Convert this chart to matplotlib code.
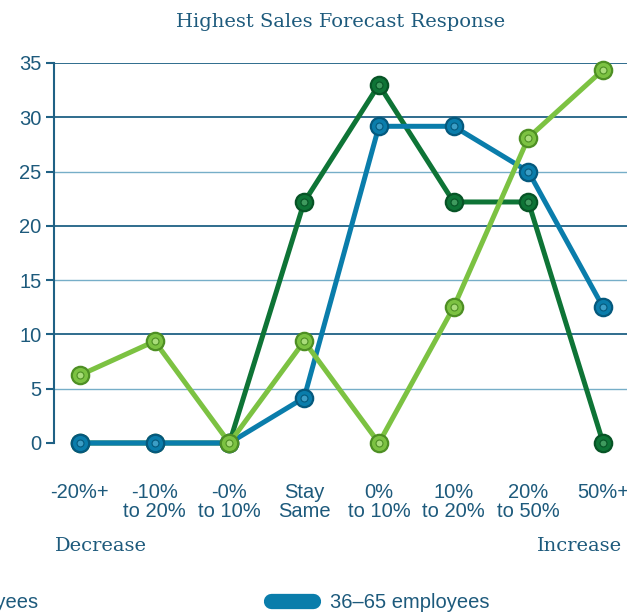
import matplotlib.pyplot as plt
from matplotlib.lines import Line2D

categories = ["-20%+", "-10%\nto 20%", "-0%\nto 10%", "Stay\nSame",
              "0%\nto 10%", "10%\nto 20%", "20%\nto 50%", "50%+"]
small = [6.25, 9.375, 0, 9.375, 0, 12.5, 28.125, 34.375]
mid = [0, 0, 0, 4.17, 29.17, 29.17, 25.0, 12.5]
large = [0, 0, 0, 22.2, 33.0, 22.2, 22.2, 0]

text_col = "#1d5a7c"
grid_dark = "#1f6185"
grid_light = "#76aec8"

fig = plt.figure(figsize=(6.27, 6.14), dpi=100)
W, H = 627, 614
ax = fig.add_axes([54 / W, (614 - 443) / H, (650 - 54) / W, (443 - 63) / H])
ax.set_xlim(-0.347, 7.627)
ax.set_ylim(0, 35)

for y in [5, 15, 25]:
    ax.axhline(y, color=grid_light, lw=1.0, zorder=1)
for y in [10, 20, 30, 35]:
    ax.axhline(y, color=grid_dark, lw=1.3, zorder=1)

for s in ["top", "right", "bottom"]:
    ax.spines[s].set_visible(False)
ax.spines["left"].set_color(grid_dark)
ax.spines["left"].set_linewidth(1.5)

x = list(range(len(categories)))


def bead_line(vals, color, edge, hi, z):
    ax.plot(x, vals, color=color, lw=3.6, zorder=z, clip_on=False,
            marker="o", ms=12.5, mfc=color, mec=edge, mew=1.6,
            solid_capstyle="round")
    ax.plot(x, vals, ls="none", marker="o", ms=5, mfc=hi, mec=edge,
            mew=0.8, zorder=z + 0.1, clip_on=False)


bead_line(large, "#0e7436", "#075426", "#3f9a5e", 3)
bead_line(mid, "#0a7dab", "#05597d", "#3c9ec6", 4)
bead_line(small, "#7cc242", "#4e8f24", "#a9dc7a", 5)

ax.set_yticks([0, 5, 10, 15, 20, 25, 30, 35])
ax.tick_params(axis="y", length=6, width=1.5, color=grid_dark, pad=3,
               labelsize=14.5, labelcolor=text_col)
for lab in ax.get_yticklabels():
    lab.set_family("Liberation Sans")
ax.set_xticks([])

for i, c in enumerate(categories):
    ax.annotate(c, (i, 0), xytext=(0, -29), textcoords="offset points",
                ha="center", va="top", fontsize=14.5, color=text_col,
                family="Liberation Sans", linespacing=1.0,
                annotation_clip=False)

fig.text(341 / W, 1 - 22 / H, "Highest Sales Forecast Response",
         ha="center", va="center", fontsize=14, color=text_col,
         family="DejaVu Serif")
fig.text(55 / W, 1 - 546 / H, "Decrease", ha="left", va="center",
         fontsize=14, color=text_col, family="DejaVu Serif")
fig.text(622 / W, 1 - 546 / H, "Increase", ha="right", va="center",
         fontsize=14, color=text_col, family="DejaVu Serif")

# legend row along the bottom edge
fig.text(38 / W, 1 - 602 / H, "1–35 employees", ha="right", va="center",
         fontsize=14.5, color=text_col, family="Liberation Sans")
fig.add_artist(Line2D([271 / W, 313 / W], [1 - 601 / H, 1 - 601 / H],
                      transform=fig.transFigure, color="#0a7dab", lw=11,
                      solid_capstyle="round"))
fig.text(330 / W, 1 - 602 / H, "36–65 employees", ha="left", va="center",
         fontsize=14.5, color=text_col, family="Liberation Sans")

fig.savefig("out.png", dpi=100)
